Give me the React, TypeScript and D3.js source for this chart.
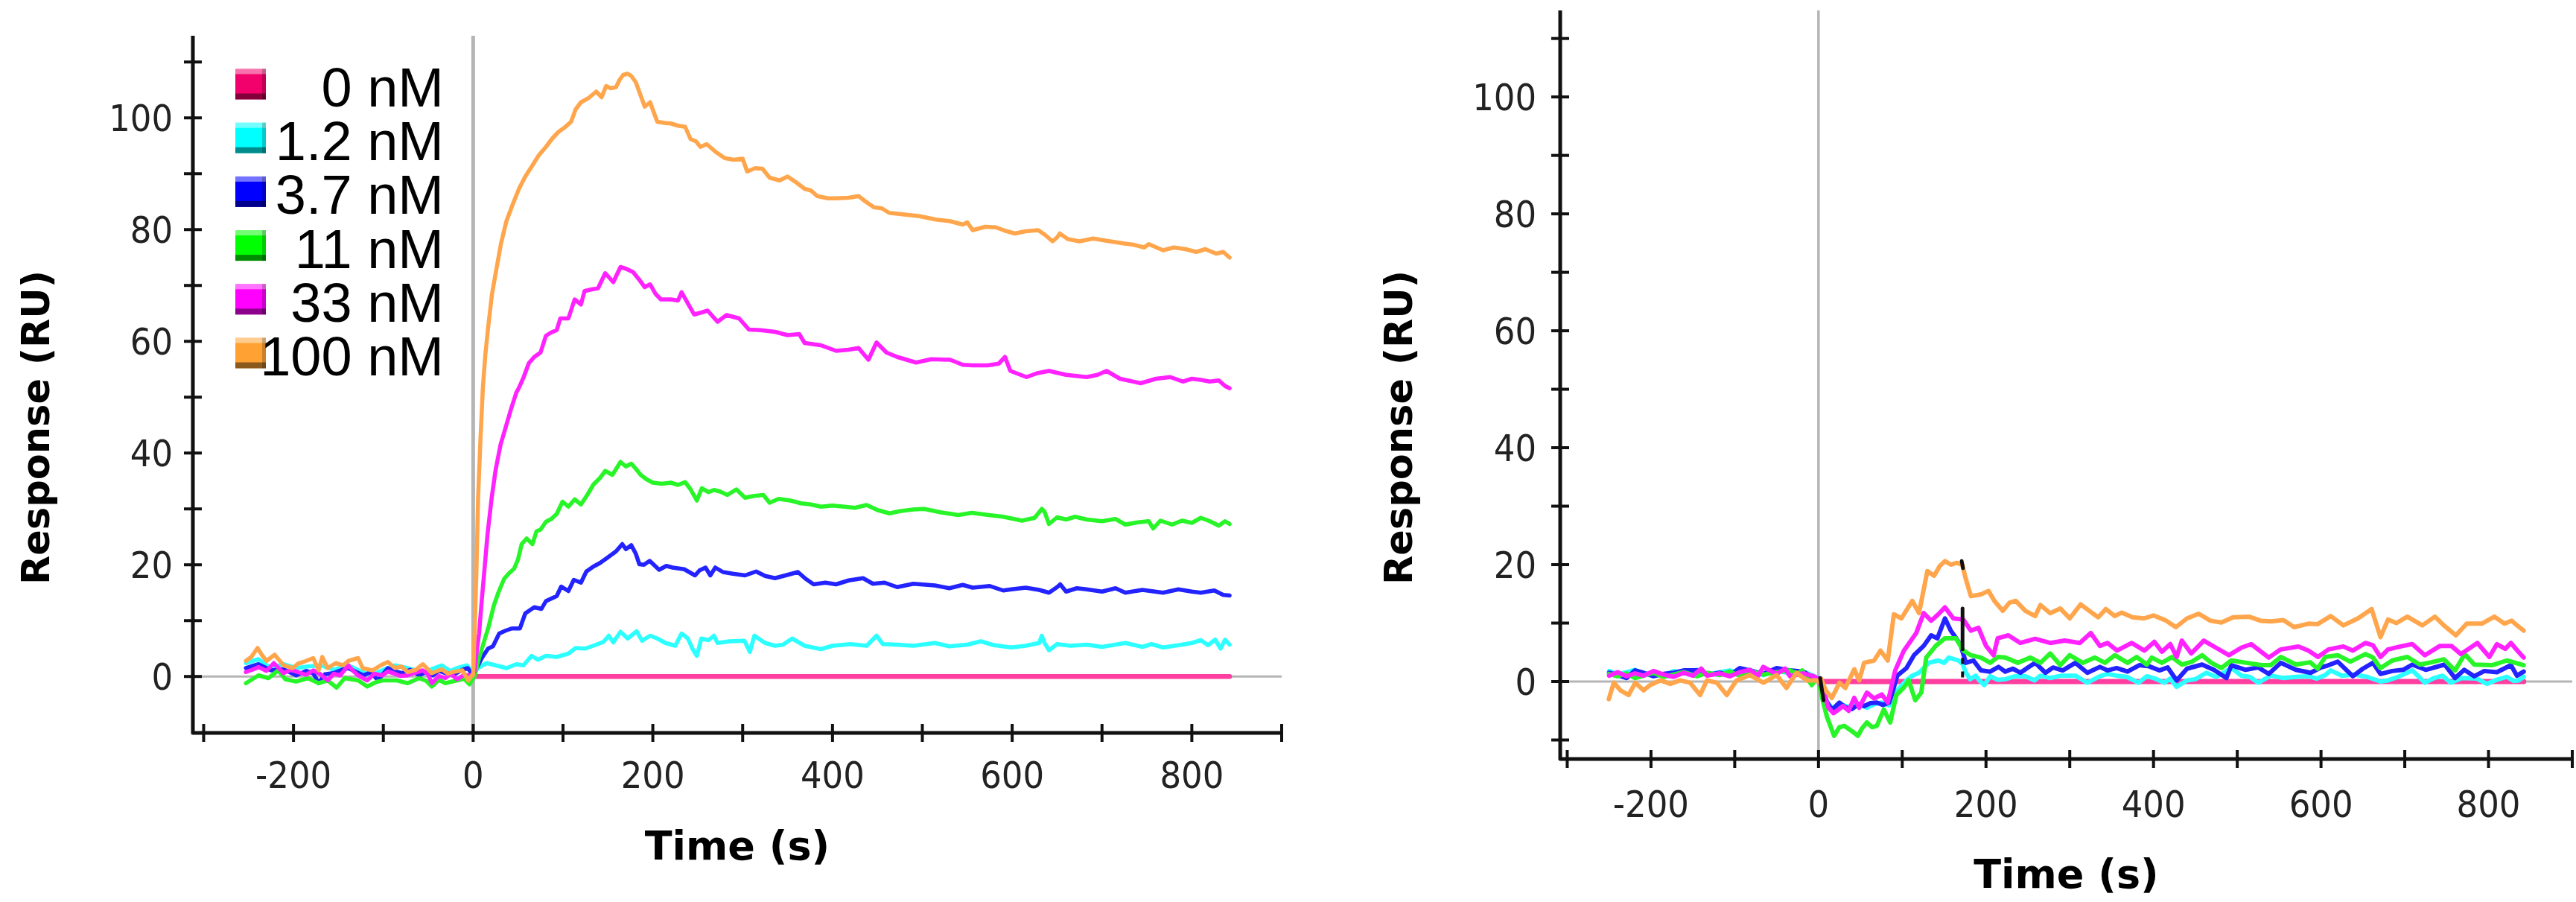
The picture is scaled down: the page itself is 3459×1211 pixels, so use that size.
import * as d3 from "d3";

type Pt = [number, number];

const W = 3459;
const H = 1211;

const concentrations = ["0 nM", "1.2 nM", "3.7 nM", "11 nM", "33 nM", "100 nM"];
const lineColors = ["#ff3f9f", "#2bffff", "#2323ff", "#27f527", "#ff22ff", "#ffa64d"];
const swatchColors = ["#f2006c", "#00ffff", "#0000ff", "#00ff00", "#ff00ff", "#ffa233"];

const xTickValues = [-300, -200, -100, 0, 100, 200, 300, 400, 500, 600, 700, 800, 900];
const xTickLabels = [-200, 0, 200, 400, 600, 800];
const yTickLabels = [0, 20, 40, 60, 80, 100];

// ---- left sensorgram (reference-subtracted, with binding) ----
const left0: Pt[] = [[0, 0], [842, 0]];

const left1_2: Pt[] = [
  [-253, 2.4], [-239, 3.1], [-225, 1.5], [-211, 2.2], [-197, 1.5], [-184, 1.8], [-170, 2.0], [-155, 1.2], [-139, 2.0], [-126, 1.0],
  [-114, 0.2], [-100, 1.2], [-87, 2.0], [-73, 1.5], [-62, 1.0], [-54, 0.6], [-45, 1.4], [-35, 2.0], [-26, 1.0], [-18, 1.5], [-7, 2.0], [-2, 1.0],
  [1, 0.5], [5, 1.5], [15, 2.4], [25, 2.0], [37, 1.5], [48, 2.2], [56, 2.0], [65, 3.7], [72, 3.0], [81, 3.7], [93, 3.5], [106, 4.1],
  [114, 5.1], [125, 5.0], [137, 5.7], [145, 6.2], [151, 7.3], [156, 6.1], [164, 8.0], [172, 6.8], [182, 8.1], [188, 6.4], [197, 7.3],
  [205, 6.8], [214, 6.0], [225, 5.5], [232, 7.7], [239, 6.8], [244, 5.0], [249, 3.7], [254, 6.8], [262, 6.5], [268, 7.3], [272, 6.0],
  [285, 6.3], [302, 6.4], [308, 4.4], [313, 7.3], [325, 6.0], [336, 5.5], [345, 5.7], [355, 6.8], [369, 5.5], [387, 4.9], [400, 5.5],
  [420, 5.8], [438, 5.5], [449, 7.3], [456, 5.8], [472, 5.7], [490, 5.5], [514, 6.0], [530, 5.4], [550, 5.7], [565, 6.3], [580, 5.6],
  [599, 5.2], [615, 5.5], [630, 6.0], [633, 7.3], [636, 6.0], [641, 4.7], [650, 5.8], [665, 5.5], [683, 5.7], [700, 5.3], [726, 6.0],
  [745, 5.3], [755, 5.8], [768, 5.2], [785, 5.6], [800, 6.0], [810, 6.5], [818, 5.6], [826, 6.6], [832, 5.0], [837, 6.6], [842, 5.7],
];

const left3_7: Pt[] = [
  [-253, 1.5], [-239, 2.2], [-225, 1.1], [-211, 1.3], [-197, 0.2], [-186, 1.0], [-178, 0.6], [-172, -1.2], [-165, 0.4], [-156, 0.6],
  [-146, 1.2], [-139, 1.5], [-130, 0.8], [-122, 0.2], [-114, 0.8], [-106, -0.7], [-95, 1.5], [-87, 0.9], [-79, 0.6], [-70, 1.2],
  [-60, 0.2], [-52, 0.9], [-45, 0.2], [-38, 1.0], [-31, 0.6], [-20, 0.5], [-12, 1.2], [-6, 1.5], [-2, 0.6],
  [1, 0.8], [5.5, 2], [10, 3.4], [16.6, 5], [22, 5.4], [29, 7.7], [36, 8.2], [43, 8.6], [52, 8.6], [58, 11.3], [68, 12.4], [76, 12.1],
  [81, 13.5], [93, 14.4], [98, 16.1], [106, 15.3], [112, 17.3], [120, 16.8], [126, 18.8], [134, 19.7], [141, 20.3], [148, 21.1],
  [159, 22.4], [166, 23.7], [170, 22.8], [176, 23.5], [181, 22.0], [185, 20.1], [190, 20.0], [196.5, 20.7], [207, 19.1], [215, 19.8],
  [222, 19.5], [235, 19.2], [247, 18.1], [252, 19.0], [258.7, 19.5], [264, 18.1], [269.5, 19.5], [278, 18.7], [289, 18.4],
  [302.6, 18.1], [315, 18.8], [325, 18.0], [336, 17.6], [350, 18.2], [361.5, 18.7], [370, 17.5], [379, 16.5], [392, 16.8],
  [404, 16.5], [418, 17.2], [434, 17.6], [445, 16.6], [458, 16.8], [472, 16.0], [490, 16.6], [514, 16.3], [530, 15.8], [545, 16.4],
  [556, 15.9], [575, 16.2], [590, 15.4], [599, 15.6], [615, 15.9], [630, 15.5], [641, 15.0], [650, 16.0], [653.5, 16.5],
  [660, 15.2], [672, 15.8], [683, 15.6], [700, 15.2], [715, 15.8], [726, 15.0], [745, 15.5], [768, 15.0], [785, 15.6],
  [800, 15.2], [810, 15.0], [825, 15.4], [835, 14.6], [842, 14.5],
];

const left11: Pt[] = [
  [-253, -1.2], [-239, 0.2], [-228, -0.3], [-217, 1.1], [-209, -0.5], [-197, -0.9], [-184, -0.3], [-172, -1.2], [-162, -0.7],
  [-152, -2.0], [-143, -0.3], [-128, -0.7], [-118, -1.8], [-108, -1.0], [-101, -0.7], [-85, -0.7], [-73, -1.2], [-60, -0.3],
  [-52, -0.8], [-46, -1.8], [-38, -0.6], [-31, -1.2], [-18, -0.7], [-10, -0.4], [-4, -1.4], [0, -0.3],
  [1.6, 0], [6, 3.0], [12.4, 6.4], [17, 8.8], [23, 12.7], [28, 15.0], [34.5, 17.5], [40, 18.5], [45.6, 19.3], [50, 21.0],
  [54, 23.7], [59.5, 24.7], [66, 23.7], [70.5, 26], [75, 26.3], [81, 27.7], [87, 28.2], [93, 29.1], [99.5, 31.3], [106, 30.4],
  [113, 31.7], [120, 30.8], [127, 32.5], [134, 34.4], [141, 35.5], [147, 36.8], [155, 36.1], [164, 38.4], [170, 37.6], [176, 38.1],
  [181, 37.2], [186.5, 36.1], [193, 35.3], [200, 34.7], [210, 34.5], [220, 34.7], [228, 34.3], [236, 34.8], [242, 33.5],
  [249, 31.5], [254.5, 33.7], [262, 33.0], [268, 33.4], [275, 33.1], [283, 32.5], [293, 33.5], [302.6, 32], [312, 32.3],
  [323, 32.5], [330, 31.1], [340, 31.8], [353, 31.5], [365, 31.0], [376, 30.8], [387, 30.4], [400, 30.6], [413, 30.4],
  [425, 30.2], [438, 30.7], [450, 29.8], [463.5, 29.2], [475, 29.6], [490, 29.9], [502, 30], [520, 29.4], [540, 28.9],
  [555, 29.3], [574, 28.9], [590, 28.6], [611, 27.9], [625, 28.4], [633, 30], [636, 29.5], [641, 27.3], [650, 28.5],
  [660, 28.1], [670, 28.6], [683, 28.1], [700, 27.8], [715, 28.2], [726, 27.2], [740, 27.6], [752, 27.8], [757, 26.5],
  [765, 27.9], [778, 27.2], [789, 27.9], [800, 27.5], [810, 28.4], [820, 27.8], [830, 27.0], [837, 27.8], [842, 27.3],
];

const left33: Pt[] = [
  [-253, 0.8], [-246, 1.2], [-239, 1.7], [-230, 1.0], [-222, 2.4], [-211, 0.6], [-203, 1.2], [-195, 0.8], [-186, 0.3], [-178, 1.1],
  [-170, 0.4], [-162, -0.7], [-155, 0.5], [-148, 0.2], [-139, 2.0], [-133, 0.9], [-128, 0.2], [-118, -0.7], [-110, 0.5],
  [-101, 0.2], [-95, 0.9], [-89, 0.6], [-81, 0.1], [-73, 0.2], [-64, 0.7], [-56, 1.1], [-50, 0.3], [-46, -1.2], [-38, 0.1],
  [-31, -0.3], [-25, 0.5], [-18, -0.5], [-10, 0.3], [-4, 0.2],
  [0, 0.3], [1.6, 1], [4, 4.5], [6.6, 7.7], [9.5, 13.5], [12.4, 18.8], [16, 25.5], [20.7, 32.1], [25, 37], [30.5, 41.5],
  [36, 44.5], [42, 47.8], [48, 50.8], [51, 51.7], [56, 53.5], [62, 56.1], [68, 57.2], [75, 58], [81, 61], [87, 61.6], [93, 62],
  [97, 64.1], [106, 64.1], [113, 67.5], [120, 66.6], [124, 69], [132, 69.3], [139, 69.5], [147, 72.2], [156, 70.6], [164, 73.3],
  [170, 73.0], [178, 72.4], [185, 71.0], [191, 69.7], [197, 70.2], [203, 68.5], [209, 67.5], [220, 67.5], [228, 67.3],
  [232, 68.8], [240, 66.5], [246, 64.8], [255, 65.2], [261, 65.5], [272, 63.5], [282, 64.7], [296, 64.1], [307, 62.1],
  [320, 62.0], [336, 61.7], [350, 61.1], [363, 61.3], [369, 59.7], [387, 59.3], [404, 58.3], [418, 58.5], [429, 58.8],
  [440, 56.7], [449, 59.8], [460, 58.0], [472, 57.2], [493, 56.2], [510, 56.8], [531, 56.7], [545, 55.8], [556, 55.7],
  [573, 55.7], [585, 56.0], [592, 57.2], [598, 54.7], [616, 53.6], [628, 54.3], [641, 54.7], [660, 54.0], [683, 53.6],
  [695, 54.0], [705, 54.7], [720, 53.3], [743, 52.5], [760, 53.3], [776, 53.6], [790, 52.8], [800, 53.3], [810, 53.1],
  [820, 52.8], [830, 53.0], [837, 52.0], [842, 51.6],
];

const left100: Pt[] = [
  [-253, 2.8], [-247, 3.5], [-240, 5.1], [-235, 3.8], [-230, 2.8], [-221, 3.9], [-211, 2.0], [-201, 1.5], [-195, 2.3], [-189, 2.6],
  [-178, 3.3], [-172, 1.1], [-168, 3.5], [-162, 1.5], [-153, 2.4], [-145, 2.0], [-139, 2.8], [-128, 3.3], [-123, 1.5], [-112, 1.1],
  [-103, 2.0], [-95, 2.6], [-87, 1.5], [-80, 1.8], [-73, 0.8], [-64, 1.2], [-56, 2.2], [-46, 0.6], [-35, 1.3], [-28, 0.5],
  [-23, 0.8], [-12, 1.1], [-5.5, -0.7], [-1.4, 0.2],
  [0, 0.3], [1, 5], [2, 10], [3.5, 18], [5.5, 32], [8, 42], [10.8, 51.7], [13.5, 57.5], [16.6, 62.4], [21, 68.5], [26.5, 73.5],
  [31, 77.5], [37, 81.5], [44, 84.5], [51, 87.3], [58, 89.5], [66, 91.5], [73, 93.3], [81, 94.8], [88, 96.3], [95, 97.5],
  [102, 98.3], [109, 99.3], [114, 101.5], [120, 102.8], [128, 103.5], [137, 104.7], [143, 103.7], [148, 105.7], [153, 105.3],
  [159, 105.5], [163, 106.8], [167, 107.7], [172, 107.9], [176, 107.5], [181, 106.4], [186, 104.2], [191, 102], [197, 102.8],
  [201, 101.0], [205, 99.3], [213, 99.1], [220, 99], [228, 98.6], [236, 98.4], [242, 96.2], [248, 95.8], [253, 94.8],
  [260, 95.3], [270, 93.9], [280, 92.8], [290, 92.5], [300, 92.7], [305, 90.4], [314, 91.0], [322, 90.9], [330, 89.3],
  [341, 88.8], [350, 89.5], [360, 88.4], [369, 87.3], [376, 87.0], [383, 86.0], [395, 85.6], [404, 85.6], [418, 85.7],
  [429, 86.0], [437, 85.0], [446, 84.0], [455, 83.8], [463, 83.0], [480, 82.7], [497, 82.4], [515, 81.8], [531, 81.5],
  [545, 80.9], [550, 81.3], [556, 79.9], [570, 80.5], [582, 80.4], [592, 79.8], [603, 79.3], [615, 79.7], [629, 79.9],
  [637, 79.0], [645, 77.9], [650, 78.6], [653, 79.3], [662, 78.3], [675, 77.9], [690, 78.4], [709, 77.9], [725, 77.5],
  [735, 77.3], [747, 76.8], [752, 77.4], [768, 76.3], [780, 76.8], [793, 76.5], [805, 76.0], [815, 76.5], [827, 75.7],
  [835, 76.0], [842, 75.0],
];

// ---- right sensorgram (control surface) ----
const right0: Pt[] = [[0, 0], [842, 0]];

const right1_2: Pt[] = [
  [-250, 1.8], [-240, 1.2], [-229, 1.6], [-219, 2.0], [-209, 1.2], [-197, 1.6], [-185, 1.0], [-173, 1.8], [-161, 1.4], [-145, 2.0],
  [-133, 1.2], [-118, 1.6], [-106, 1.9], [-94, 1.3], [-82, 2.0], [-66, 1.1], [-50, 1.9], [-34, 1.4], [-18, 1.7], [-6, 1.0], [0, 0.6],
  [4.4, -1.5], [10, -3.5], [16, -4.5], [28, -4.0], [40, -4.5], [48, -3.8], [57.8, -4.5], [66, -3.9], [75.5, -3.6], [84.4, -4.1],
  [90, -3.0], [94, -1.5], [105, 0.2], [112, 1.0], [120, 1.5], [131.6, 3.2], [143, 3.6], [150, 3.2], [155.6, 4.1], [167, 3.6],
  [172, 3.0], [176, 1.5], [181, 0.4], [187.6, 1.0], [192, 0.2], [198, -0.6], [205, 0.9], [214, 0.3], [223, 0.4], [235, 0.9],
  [247, 0.9], [258, 0.2], [265, 1.0], [276.6, 0.6], [290, 1.0], [306.7, 1.0], [321, -0.2], [336, 0.9], [345, 1.3], [356, 1.0],
  [368, 0.8], [382, -0.2], [392, 0.9], [400, 0.6], [413, -0.2], [420, 0.5], [427.6, -0.9], [440, 0.2], [450, 0.4], [463, 1.5],
  [475, 0.8], [493, 2.3], [505, 1.0], [515, 0.8], [525, -0.2], [540, 1.0], [555, 0.6], [570, 0.8], [585, 0.9], [595, 0.5],
  [605, 1.1], [611.6, 1.9], [625, 1.0], [640, 1.2], [655, 0.8], [671, 0], [680, 0.2], [692, 0.8], [709, 1.9], [717, 0.8],
  [724, -0.2], [735, 0.6], [745, 1.0], [755, -0.2], [768, 0.6], [786, 0.5], [798, -0.4], [810, 0.3], [822, 0.8], [830, 0.1],
  [836, 0.2], [842, 0.8],
];

const right3_7: Pt[] = [
  [-250, 1.5], [-240, 1.1], [-229, 0.6], [-219, 1.9], [-209, 1.5], [-197, 0.9], [-185, 1.3], [-173, 1.5], [-161, 1.9], [-145, 1.9],
  [-133, 1.1], [-118, 1.5], [-106, 1.1], [-94, 2.3], [-82, 1.9], [-66, 1.3], [-50, 2.3], [-34, 1.9], [-18, 1.7], [-6, 0.6], [0, 0.4],
  [4.4, -1], [10, -3.5], [16, -4.8], [20, -4.3], [25, -3.6], [32, -4.4], [40, -4.7], [48, -3.9], [54.5, -4.2], [62, -3.7],
  [69.6, -3.6], [77, -4.0], [84.4, -3.6], [89, -1.5], [94, 1], [105, 2.3], [114, 4.5], [125.6, 6.1], [134.5, 7.9], [142, 7.4],
  [151, 10.8], [158, 8.7], [164, 7.5], [170, 6.1], [176, 3.2], [185, 3.6], [194, 1.9], [205, 1.7], [215, 2.5], [223, 1.7],
  [232, 2.2], [241, 1.5], [250, 2.4], [258.7, 3.2], [271, 1.5], [280, 2.4], [291.6, 1.9], [306.7, 3.2], [321, 1.5], [336, 2.5],
  [345, 1.9], [356, 2.3], [369, 1.7], [383, 2.8], [395, 2.6], [407, 1.9], [417, 2.4], [427.6, 0.2], [440, 2.2], [458, 2.9],
  [472, 2.0], [487, 0.6], [493, 2.8], [510, 2.0], [525, 2.4], [537.6, 1.3], [552, 3.2], [570, 2.0], [587.6, 1.5], [600, 2.4],
  [609, 2.8], [620, 3.4], [638, 0.9], [650, 2.2], [662, 3.2], [671, 1.3], [685, 1.8], [698, 2.0], [709, 2.9], [725, 2.0],
  [747.6, 2.9], [760, 0.6], [771, 2.0], [783, 0.9], [795, 1.8], [810, 1.6], [826.7, 2.8], [834, 1.0], [842, 1.7],
];

const right11: Pt[] = [
  [-250, 1.3], [-240, 0.9], [-229, 1.4], [-219, 0.6], [-209, 1.0], [-197, 1.5], [-185, 0.8], [-173, 1.2], [-161, 1.6], [-145, 0.9],
  [-133, 1.5], [-118, 1.1], [-106, 1.7], [-94, 1.0], [-82, 1.8], [-66, 1.2], [-50, 1.6], [-34, 1.9], [-25, 1.3], [-19.6, 1.9],
  [-8, -0.6], [-3, 0.4], [0, 0.2],
  [4.4, -2.8], [10, -6], [18.7, -9.3], [25, -7.8], [31, -7.6], [40, -8.5], [47, -9.3], [52, -8.0], [57.8, -7], [64, -7.8],
  [69.6, -7.6], [78, -4.8], [85.6, -7], [93, -2.3], [102, -1], [107.7, 0.2], [115.5, -3.2], [122.7, -1.9], [128.6, 4.1],
  [140, 6.1], [151, 7.4], [164, 7.4], [173, 5.3], [182, 4.5], [194, 4.1], [205, 3.2], [214, 4.2], [223, 4.1], [238, 3.2],
  [253, 4.1], [265, 3.2], [276.6, 4.8], [288.7, 2.8], [300, 4.5], [315.5, 3.2], [330, 4.1], [342, 3.2], [353.8, 4.5],
  [369, 3.2], [380, 4.2], [392, 2.9], [398, 4.1], [410, 3.2], [422, 4.2], [434, 2.9], [446, 3.4], [458, 4.5], [469, 3.2],
  [481, 2.3], [493, 3.6], [511, 3.2], [529, 2.8], [540, 2.8], [552, 4.2], [570, 2.9], [587, 3.3], [596, 2.2], [605, 4.2],
  [620, 4.5], [635, 3.4], [653, 4.7], [662, 4.1], [671, 2.3], [685, 3.6], [703, 4.2], [718, 2.9], [732, 3.3], [746.7, 3.8],
  [760, 1.9], [771.6, 4.7], [783, 2.9], [804, 2.8], [822, 3.6], [832, 3.2], [842, 2.8],
];

const right33: Pt[] = [
  [-250, 1.0], [-240, 1.6], [-229, 0.9], [-219, 1.4], [-209, 1.0], [-197, 1.8], [-185, 1.2], [-173, 0.8], [-161, 1.5], [-150, 1.0],
  [-140, 2.2], [-133, 1.0], [-118, 1.4], [-106, 0.9], [-94, 1.6], [-82, 2.0], [-72, 1.0], [-66, 2.5], [-50, 1.3], [-40, 2.2],
  [-34, 0.9], [-18, 1.4], [-6, 0.9], [0, 0.5],
  [7, -2.3], [12, -4.5], [17.8, -5.4], [24, -4.8], [29.3, -4.2], [36, -5.0], [42.7, -2.8], [48.6, -4.5], [57.8, -1.9],
  [66.4, -2.9], [75.5, -2.2], [82.7, -3.6], [91.6, 1.9], [102, 5.3], [116.7, 8.3], [125.6, 11.7], [134.5, 10.4], [143, 11.5],
  [151, 12.7], [161, 10.8], [173, 10.6], [182, 8.7], [191, 9.2], [200, 6.1], [209, 4.5], [214, 7.4], [226.7, 7.9], [241, 6.6],
  [258.7, 7.3], [276.6, 6.6], [294, 7], [312, 6.6], [325, 8.3], [336, 6.1], [345, 6.6], [356.5, 5.3], [374, 6.6], [389, 5.3],
  [401, 6.8], [410, 5.1], [420, 6.4], [427.6, 4.2], [433.8, 7], [445, 4.8], [460, 7], [475.6, 5.7], [490, 4.5], [505, 5.8],
  [516.7, 6.4], [537.6, 4.1], [552, 5.5], [573, 6], [585, 5.3], [596.4, 4.2], [609, 5.5], [626.7, 6], [638, 5.3], [653, 6.6],
  [662, 6.2], [671, 4.2], [680, 5.5], [698, 6.1], [709, 6.4], [724, 4.5], [742, 6.1], [755.6, 6.1], [767, 4.7], [786.7, 6.6],
  [801, 4.2], [810, 6.4], [820, 5.6], [826.7, 6.6], [835.6, 5.1], [842, 4.1],
];

const right100: Pt[] = [
  [-250.4, -3.0], [-244.4, -0.2], [-236.5, -1.5], [-226.7, -2.3], [-218.7, -0.2], [-208.9, -1.5], [-200.9, -0.6], [-188.9, 0.2],
  [-176.9, -0.4], [-165.3, 0.2], [-153.3, -0.2], [-141.3, -2.3], [-133.3, 0.2], [-121.4, -0.2], [-109.5, -2.3], [-97.8, 0.2],
  [-81.8, 1.1], [-65.8, -0.2], [-50, 1.1], [-38.2, -1.1], [-26.2, 1.5], [-14.2, 0.2], [-2.7, 0.2],
  [0, 0], [3, 0.5], [8.6, -1.5], [16, -2.8], [25, -0.2], [32, -1.1], [42.7, 2.1], [48.6, 0.2], [54.5, 3.2], [66.4, 3.6], [74, 5.3],
  [82.7, 3.6], [90, 11.5], [99, 10.8], [112, 13.8], [120, 11.7], [130, 18.9], [138, 18.1], [145, 19.8], [151, 20.6], [158, 20],
  [165, 20.3], [171.6, 20], [176, 17.5], [182, 14.6], [194, 14.9], [203, 15.5], [210, 13.8], [220, 12.1], [228, 13.5],
  [235.5, 13.8], [247, 12.1], [258.7, 11.2], [265, 13.1], [276.6, 11.7], [288.7, 12.5], [300, 10.8], [313, 13.2], [327, 11.7],
  [334, 11.0], [343, 12.4], [353.8, 11.2], [362, 11.8], [375, 11.0], [388.6, 10.8], [400, 11.3], [414, 10.5], [426.7, 9.3],
  [440, 10.8], [454, 11.6], [468, 10.4], [481, 10.1], [495, 11.0], [514, 11.1], [528, 10.4], [540.5, 10.3], [555, 10.5],
  [568, 9.3], [585, 9.9], [595.6, 9.8], [611.6, 11.2], [626.7, 9.6], [644, 10.8], [660.4, 12.4], [671, 7.6], [680, 10.6],
  [690, 10.0], [703, 11.1], [721, 9.6], [736, 11.1], [746.7, 9.6], [761, 7.9], [774, 9.9], [792, 9.9], [807, 11.1], [819, 9.9],
  [827.6, 10.4], [835, 9.5], [842, 8.7],
];

// short black traces seen at the start and end of injection on the control surface
const rightBlackSolid: Pt[][] = [[[172, 12.5], [172, 5.5]], [[2, 0.6], [6, -3.2]], [[171, 20.6], [172.5, 19.4]]];
const rightBlackDashed: Pt[] = [[172, 4], [172, 0]];

const leftSeries = [left0, left1_2, left3_7, left11, left33, left100];
const rightSeries = [right0, right1_2, right3_7, right11, right33, right100];

interface PanelProps {
  series: Pt[][];
  xDomain: [number, number];
  yDomain: [number, number];
  left: number;
  right: number;
  top: number;
  bottom: number;
  yMinorTicks: number[];
  lineWidth: number;
  refWidth: number;
  children?: any;
}

const tickFont = "'DejaVu Sans Condensed', 'DejaVu Sans', sans-serif";
const titleFont = "'DejaVu Sans', sans-serif";

function Panel({ series, xDomain, yDomain, left, right, top, bottom, yMinorTicks, lineWidth, refWidth, children }: PanelProps) {
  const x = d3.scaleLinear().domain(xDomain).range([left, right]);
  const y = d3.scaleLinear().domain(yDomain).range([bottom, top]);
  const line = d3
    .line<Pt>()
    .x((d) => x(d[0]))
    .y((d) => y(d[1]));

  return (
    <g>
      {/* reference lines at t = 0 and response = 0 */}
      <line x1={x(0)} x2={x(0)} y1={top} y2={bottom} stroke="#b5b5b5" strokeWidth={refWidth} />
      <line x1={left} x2={x(900)} y1={y(0)} y2={y(0)} stroke="#b5b5b5" strokeWidth={3} />

      {series.map((s, i) => (
        <path
          key={i}
          d={line(s) || ""}
          fill="none"
          stroke={lineColors[i]}
          strokeWidth={i === 0 ? lineWidth + 1 : lineWidth}
          strokeLinejoin="round"
          strokeLinecap="round"
        />
      ))}
      {children ? children(x, y, line) : null}

      {/* axes */}
      <path
        d={`M${left},${top}V${bottom}H${x(900) + 2}`}
        fill="none"
        stroke="#111"
        strokeWidth={5}
        strokeLinejoin="round"
      />
      {yMinorTicks.map((t) => (
        <line key={"yt" + t} x1={left - 12} x2={left + 12} y1={y(t)} y2={y(t)} stroke="#111" strokeWidth={4} />
      ))}
      {xTickValues.map((t) => (
        <line key={"xt" + t} x1={x(t)} x2={x(t)} y1={bottom - 12} y2={bottom + 12} stroke="#111" strokeWidth={4} />
      ))}
    </g>
  );
}

function Labels({ xDomain, yDomain, left, right, top, bottom, yLabelGap, xLabelY, yTitleX, xTitleY }: any) {
  const x = d3.scaleLinear().domain(xDomain).range([left, right]);
  const y = d3.scaleLinear().domain(yDomain).range([bottom, top]);
  const cy = 574;
  return (
    <g>
      {yTickLabels.map((t) => (
        <text
          key={"yl" + t}
          x={left - yLabelGap}
          y={y(t)}
          dy="0.36em"
          textAnchor="end"
          fontFamily={tickFont}
          fontStretch="condensed"
          fontSize={50}
          fill="#222"
        >
          {String(t)}
        </text>
      ))}
      {xTickLabels.map((t) => (
        <text
          key={"xl" + t}
          x={x(t)}
          y={xLabelY}
          dy="0.36em"
          textAnchor="middle"
          fontFamily={tickFont}
          fontStretch="condensed"
          fontSize={50}
          fill="#222"
        >
          {String(t)}
        </text>
      ))}
      <text
        transform={`translate(${yTitleX},${cy}) rotate(-90)`}
        textAnchor="middle"
        dy="0.36em"
        fontFamily={titleFont}
        fontWeight="bold"
        fontSize={51}
        fill="#000"
      >
        Response (RU)
      </text>
      <text
        x={(left + x(900)) / 2}
        y={xTitleY}
        dy="0.36em"
        textAnchor="middle"
        fontFamily={titleFont}
        fontWeight="bold"
        fontSize={54}
        fill="#000"
      >
        Time (s)
      </text>
    </g>
  );
}

function Legend() {
  const rowY = d3.scaleLinear().domain([0, 5]).range([113, 474]);
  const size = 41;
  const sx = 316;
  return (
    <g>
      {concentrations.map((c, i) => {
        const cy = rowY(i);
        return (
          <g key={c}>
            <rect x={sx} y={cy - size / 2} width={size} height={size} fill={swatchColors[i]} />
            <rect x={sx} y={cy - size / 2} width={size} height={7} fill="#fff" opacity={0.45} />
            <rect x={sx} y={cy + size / 2 - 8} width={size} height={8} fill="#000" opacity={0.45} />
            <rect x={sx + size - 5} y={cy - size / 2} width={5} height={size} fill="#000" opacity={0.2} />
            <text
              x={596}
              y={cy + 30}
              textAnchor="end"
              fontFamily="'Liberation Sans', Arial, sans-serif"
              fontSize={74}
              fill="#000"
            >
              {c}
            </text>
          </g>
        );
      })}
    </g>
  );
}

const leftMinor = [0, 10, 20, 30, 40, 50, 60, 70, 80, 90, 100, 110];
const rightMinor = [-10, 0, 10, 20, 30, 40, 50, 60, 70, 80, 90, 100, 110];

export default function App() {
  const leftGeom = { xDomain: [-312, 900] as [number, number], yDomain: [-10.1, 114.7] as [number, number], left: 259, right: 1721, top: 48, bottom: 984 };
  const rightGeom = { xDomain: [-308.4, 900] as [number, number], yDomain: [-13.25, 114.8] as [number, number], left: 2095, right: 3454, top: 14, bottom: 1019 };

  return (
    <svg
      width={W}
      height={H}
      viewBox={`0 0 ${W} ${H}`}
      style={{ position: "absolute", left: 0, top: 0, background: "#fff" }}
    >
      <rect width={W} height={H} fill="#fff" />

      <Panel {...leftGeom} series={leftSeries} yMinorTicks={leftMinor} lineWidth={5.5} refWidth={5} />
      <Labels {...leftGeom} yLabelGap={27} xLabelY={1040} yTitleX={48} xTitleY={1135} />
      <Legend />

      <Panel {...rightGeom} series={rightSeries} yMinorTicks={rightMinor} lineWidth={6} refWidth={3.5}>
        {(x: any, y: any, line: any) => (
          <g>
            {rightBlackSolid.map((seg, i) => (
              <path key={i} d={line(seg)} fill="none" stroke="#111" strokeWidth={5} strokeLinecap="round" />
            ))}
            <path d={line(rightBlackDashed)} fill="none" stroke="#111" strokeWidth={4} strokeDasharray="8 10" />
          </g>
        )}
      </Panel>
      <Labels {...rightGeom} yLabelGap={32} xLabelY={1079} yTitleX={1878} xTitleY={1173} />
    </svg>
  );
}
